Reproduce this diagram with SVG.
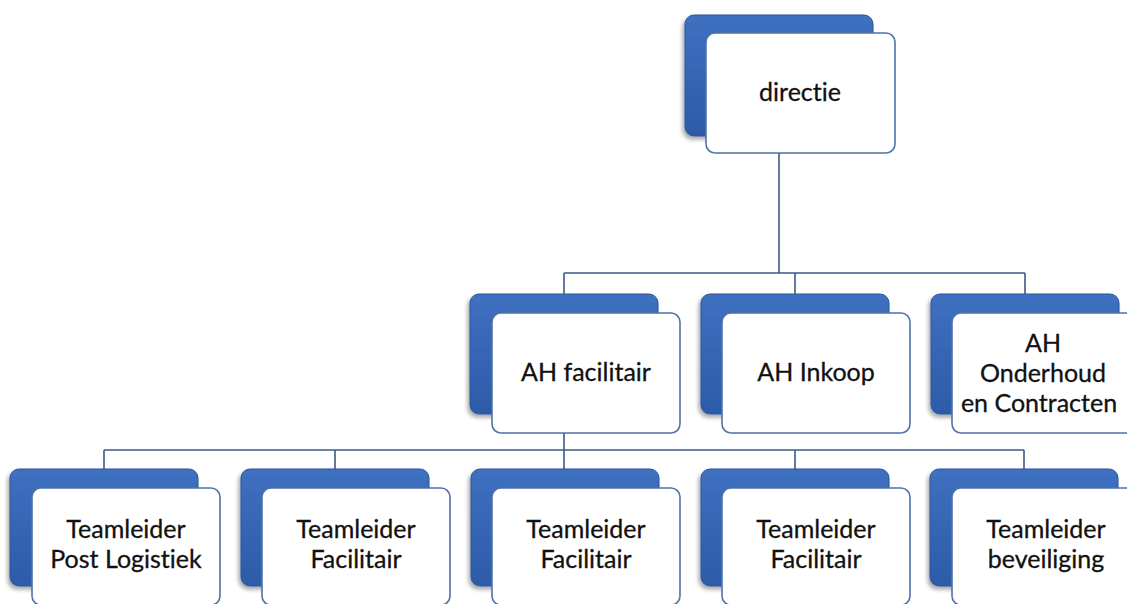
<svg xmlns="http://www.w3.org/2000/svg" width="1127" height="604" viewBox="0 0 1127 604">
  <defs>
    <linearGradient id="blueGrad" x1="0" y1="0" x2="0" y2="1">
      <stop offset="0" stop-color="#3f70c0"/>
      <stop offset="1" stop-color="#2c5ba8"/>
    </linearGradient>
    <filter id="soft" x="-10%" y="-10%" width="130%" height="130%">
      <feGaussianBlur in="SourceAlpha" stdDeviation="2"/>
      <feOffset dx="-2" dy="3" result="b"/>
      <feComponentTransfer><feFuncA type="linear" slope="0.35"/></feComponentTransfer>
      <feMerge><feMergeNode/><feMergeNode in="SourceGraphic"/></feMerge>
    </filter>
  </defs>
  <style>
    .back { fill: url(#blueGrad); stroke: #2a559c; stroke-width: 1; filter: url(#soft); }
    .front { fill: #ffffff; stroke: #4f73a8; stroke-width: 1.6; }
    .lbl { font-family: Lato, "Open Sans", "Liberation Sans", sans-serif; font-size: 25px; fill: #111111; text-anchor: middle; font-variant-ligatures: none; stroke: #111111; stroke-width: 0.3; }
    .conn { fill: none; stroke: #3b5a86; stroke-width: 1.6; }
  </style>
  <rect width="1127" height="604" fill="#ffffff"/>

  <g id="connectors">
    <path class="conn" d="M779 153 V273 M564 273 H1025 M564 273 V294 M795 273 V294 M1025 273 V294"/>
    <path class="conn" d="M564 433 V450 M104 450 H1024 M104 450 V469 M335 450 V469 M564 450 V469 M795 450 V469 M1024 450 V469"/>
  </g>

  <g id="directie">
    <rect class="back" x="685" y="15" width="188" height="121" rx="9"/>
    <rect class="front" x="706" y="33" width="189" height="120" rx="9"/>
    <text class="lbl" x="800" y="101">directie</text>
  </g>

  <g id="ah-facilitair">
    <rect class="back" x="470" y="294" width="188" height="120" rx="9"/>
    <rect class="front" x="492" y="313" width="188" height="120" rx="9"/>
    <text class="lbl" x="586" y="381">AH facilitair</text>
  </g>

  <g id="ah-inkoop">
    <rect class="back" x="701" y="294" width="188" height="120" rx="9"/>
    <rect class="front" x="722" y="313" width="188" height="120" rx="9"/>
    <text class="lbl" x="816" y="381">AH Inkoop</text>
  </g>

  <g id="ah-onderhoud">
    <rect class="back" x="931" y="294" width="188" height="120" rx="9"/>
    <rect class="front" x="952" y="313" width="188" height="120" rx="9"/>
    <text class="lbl" x="1043" y="352">AH</text>
    <text class="lbl" x="1043" y="382">Onderhoud</text>
    <text class="lbl" x="1039" y="412">en Contracten</text>
  </g>

  <g id="tl-post-logistiek">
    <rect class="back" x="10" y="469" width="188" height="117" rx="9"/>
    <rect class="front" x="32" y="488" width="188" height="117" rx="9"/>
    <text class="lbl" x="126" y="538">Teamleider</text>
    <text class="lbl" x="126" y="568">Post Logistiek</text>
  </g>

  <g id="tl-facilitair-1">
    <rect class="back" x="241" y="469" width="188" height="117" rx="9"/>
    <rect class="front" x="262" y="488" width="188" height="117" rx="9"/>
    <text class="lbl" x="356" y="538">Teamleider</text>
    <text class="lbl" x="356" y="568">Facilitair</text>
  </g>

  <g id="tl-facilitair-2">
    <rect class="back" x="471" y="469" width="188" height="117" rx="9"/>
    <rect class="front" x="492" y="488" width="188" height="117" rx="9"/>
    <text class="lbl" x="586" y="538">Teamleider</text>
    <text class="lbl" x="586" y="568">Facilitair</text>
  </g>

  <g id="tl-facilitair-3">
    <rect class="back" x="701" y="469" width="188" height="117" rx="9"/>
    <rect class="front" x="722" y="488" width="188" height="117" rx="9"/>
    <text class="lbl" x="816" y="538">Teamleider</text>
    <text class="lbl" x="816" y="568">Facilitair</text>
  </g>

  <g id="tl-beveiliging">
    <rect class="back" x="930" y="469" width="188" height="117" rx="9"/>
    <rect class="front" x="952" y="488" width="188" height="117" rx="9"/>
    <text class="lbl" x="1046" y="538">Teamleider</text>
    <text class="lbl" x="1046" y="568">beveiliging</text>
  </g>
</svg>
